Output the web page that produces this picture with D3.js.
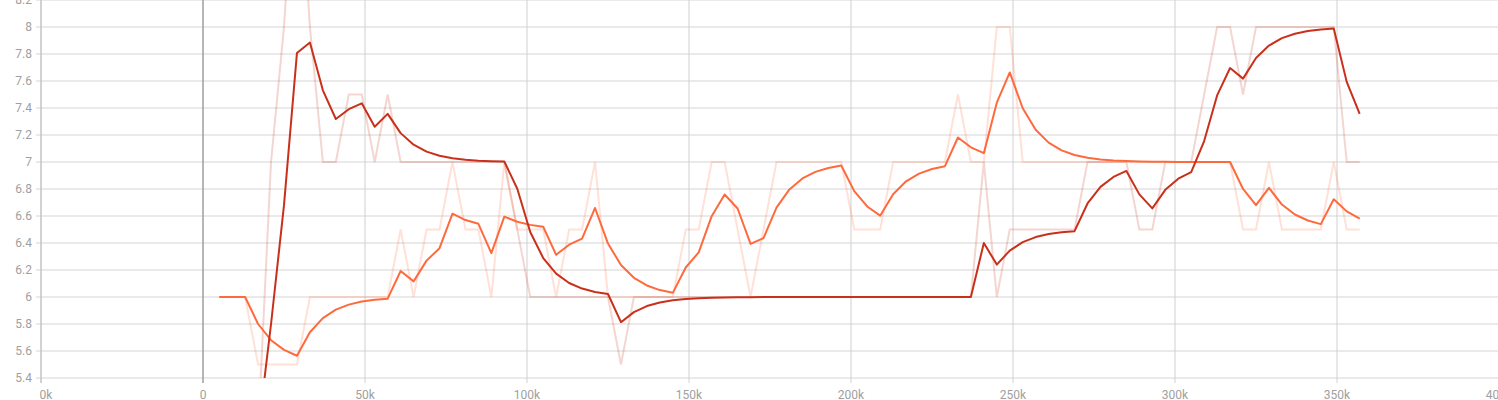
<!DOCTYPE html>
<html><head><meta charset="utf-8">
<script src="https://cdn.jsdelivr.net/npm/d3@7"></script>
<style>body{margin:0;background:#fff}svg{display:block;font-family:Roboto,sans-serif}</style>
</head><body><svg id="c" width="1498" height="400"></svg>
<script>
const steps = [5000,9000,13000,17000,21000,25000,29000,33000,37000,41000,45000,49000,53000,57000,61000,65000,69000,73000,77000,81000,85000,89000,93000,97000,101000,105000,109000,113000,117000,121000,125000,129000,133000,137000,141000,145000,149000,153000,157000,161000,165000,169000,173000,177000,181000,185000,189000,193000,197000,201000,205000,209000,213000,217000,221000,225000,229000,233000,237000,241000,245000,249000,253000,257000,261000,265000,269000,273000,277000,281000,285000,289000,293000,297000,301000,305000,309000,313000,317000,321000,325000,329000,333000,337000,341000,345000,349000,353000,357000];
const redRaw = [null,null,null,5,7,8,9.5,8,7,7,7.5,7.5,7,7.5,7,7,7,7,7,7,7,7,7,6.5,6,6,6,6,6,6,6,5.5,6,6,6,6,6,6,6,6,6,6,6,6,6,6,6,6,6,6,6,6,6,6,6,6,6,6,6,7,6,6.5,6.5,6.5,6.5,6.5,6.5,7,7,7,7,6.5,6.5,7,7,7,7.5,8,8,7.5,8,8,8,8,8,8,8,7,7];
const orangeRaw = [6,6,6,5.5,5.5,5.5,5.5,6,6,6,6,6,6,6,6.5,6,6.5,6.5,7,6.5,6.5,6,7,6.5,6.5,6.5,6,6.5,6.5,7,6,6,6,6,6,6,6.5,6.5,7,7,6.5,6,6.5,7,7,7,7,7,7,6.5,6.5,6.5,7,7,7,7,7,7.5,7,7,8,8,7,7,7,7,7,7,7,7,7,7,7,7,7,7,7,7,7,6.5,6.5,7,6.5,6.5,6.5,6.5,7,6.5,6.5];
const xTicks = [-50000,0,50000,100000,150000,200000,250000,300000,350000,400000];
const yTicks = [5.4,5.6,5.8,6,6.2,6.4,6.6,6.8,7,7.2,7.4,7.6,7.8,8,8.2];
const smoothing = 0.6;

function ema(arr){let last=null;return arr.map(v=>{if(v==null)return null;last=last==null?v:last*smoothing+v*(1-smoothing);return last;});}

const svg=d3.select('#c');
const x=d3.scaleLinear().domain([-50000,400000]).range([41,1499]);
const y=d3.scaleLinear().domain([5.4,8.2]).range([378,0]);
const defs=svg.append('defs');
defs.append('clipPath').attr('id','plot').append('rect').attr('x',41).attr('y',0).attr('width',1460).attr('height',378);
defs.append('clipPath').attr('id','lab').append('rect').attr('x',40).attr('y',378).attr('width',1460).attr('height',22);

svg.append('g').selectAll('line').data(yTicks).join('line')
 .attr('x1',36).attr('x2',1498).attr('y1',d=>y(d)).attr('y2',d=>y(d)).attr('stroke','#e3e3e3').attr('stroke-width',1.5);
svg.append('g').selectAll('line').data(xTicks).join('line')
 .attr('x1',d=>x(d)).attr('x2',d=>x(d)).attr('y1',0).attr('y2',383)
 .attr('stroke',d=>d===0?'#9e9e9e':'#d0d0d0').attr('stroke-width',d=>d===0?1.5:1);
svg.append('line').attr('x1',41).attr('x2',41).attr('y1',0).attr('y2',383).attr('stroke','#bdbdbd').attr('stroke-width',1);

svg.append('g').selectAll('text').data(yTicks).join('text')
 .attr('x',32).attr('y',d=>y(d)).attr('dy','0.35em').attr('text-anchor','end')
 .attr('font-size',12).attr('fill','#a0a0a0').text(d=>d3.format('~g')(d));
svg.append('g').attr('clip-path','url(#lab)').selectAll('text').data(xTicks).join('text')
 .attr('x',d=>x(d)).attr('y',395).attr('dy','0.35em').attr('text-anchor','middle')
 .attr('font-size',12).attr('fill','#a0a0a0').text(d=>d===0?'0':(d/1000)+'k');

const line=d3.line().defined(d=>d[1]!=null).x(d=>x(d[0])).y(d=>y(d[1]));
const g=svg.append('g').attr('clip-path','url(#plot)');
const series=[{raw:redRaw,c:'#c9301b'},{raw:orangeRaw,c:'#ff6a3d'}];
series.forEach(s=>{
 g.append('path').attr('d',line(steps.map((t,i)=>[t,s.raw[i]]))).attr('fill','none').attr('stroke',s.c).attr('stroke-opacity',0.2).attr('stroke-width',2);
});
series.slice().reverse().forEach(s=>{
 const sm=ema(s.raw);
 g.append('path').attr('d',line(steps.map((t,i)=>[t,sm[i]]))).attr('fill','none').attr('stroke',s.c).attr('stroke-width',2).attr('stroke-linejoin','round');
});
</script></body></html>
